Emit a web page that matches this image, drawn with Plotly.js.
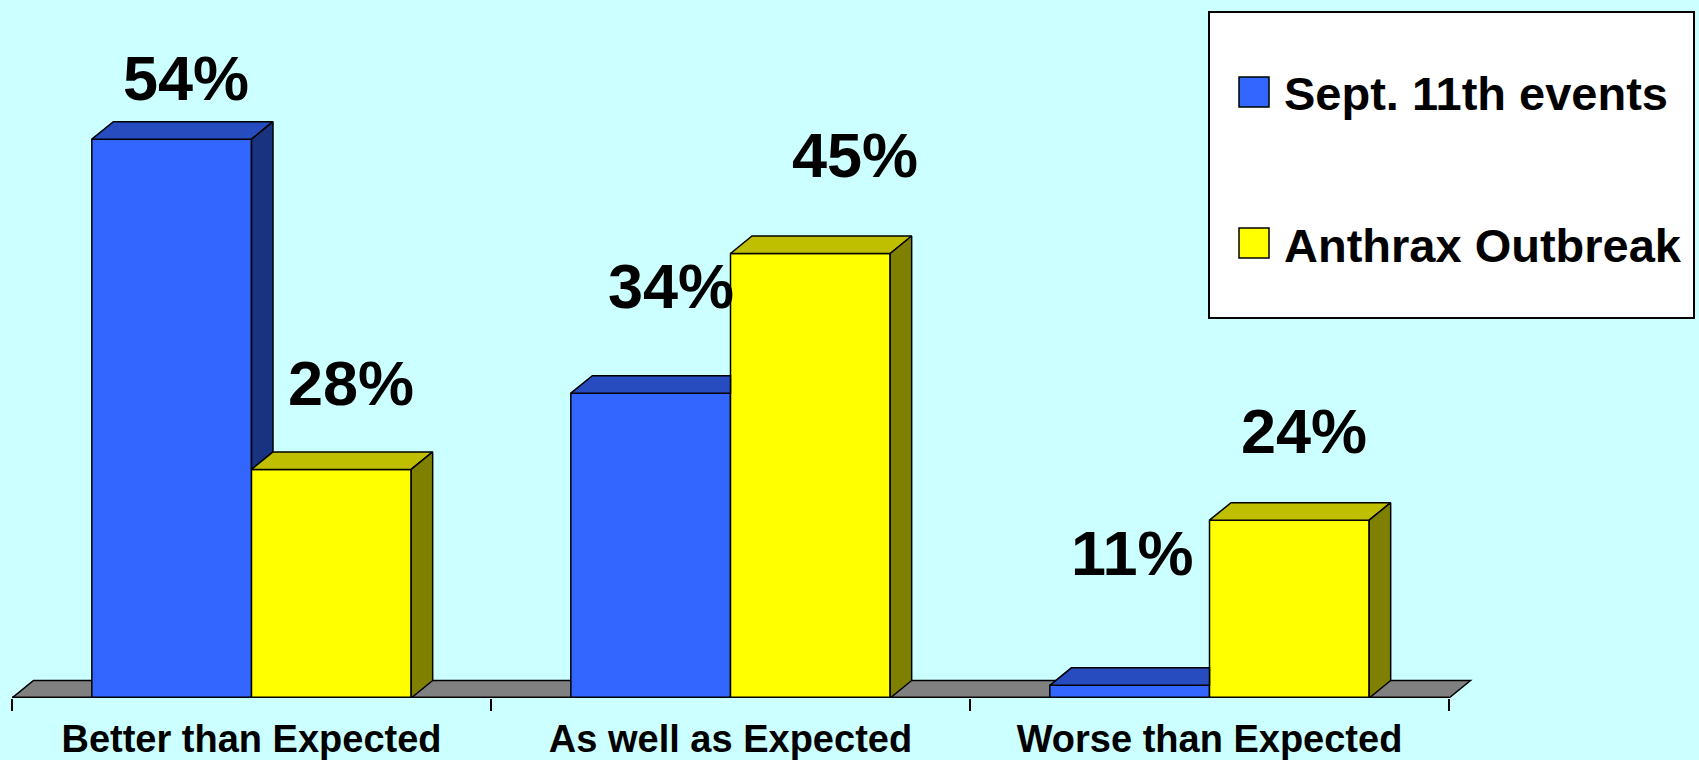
<!DOCTYPE html>
<html>
<head>
<meta charset="utf-8">
<script src="https://cdn.plot.ly/plotly-3.0.1.min.js"></script>
<style>
  html, body { margin: 0; padding: 0; background: #CCFFFF; }
  #chart { width: 1699px; height: 760px; }
</style>
</head>
<body>
<div id="chart"></div>
<script>
// ---------------- data ----------------
const categories = ['Better than Expected', 'As well as Expected', 'Worse than Expected'];
const seriesNames = ['Sept. 11th events', 'Anthrax Outbreak'];
const sept11Values = [54, 34, 11];
const anthraxValues = [28, 45, 24];
const AXIS_FLOOR = 10;   // value axis of the original chart starts at 10%

// ---------------- layout constants ----------------
const FONT = 'Liberation Sans, Arial, Helvetica, sans-serif';
const W = 1699, H = 760;
const M = { l: 12, r: 219, t: 0, b: 62 };
const PX_PER_CAT = 479, PX_PER_UNIT = 12.7;
const plotW = W - M.l - M.r, plotH = H - M.t - M.b;
const xRange = [-0.5, -0.5 + plotW / PX_PER_CAT];
const yRange = [AXIS_FLOOR, AXIS_FLOOR + plotH / PX_PER_UNIT];
const DX = 21.5 / PX_PER_CAT;      // 3-D depth, x units
const DY = 17.5 / PX_PER_UNIT;     // 3-D depth, y units
const BAR_W = 1 / 3;

const colors = {
  blue:   { front: '#3366FF', top: '#264CBF', side: '#1A3380' },
  yellow: { front: '#FFFF00', top: '#BFBF00', side: '#808000' }
};
// hand placement of the value labels (pixels, relative to bar front-top centre)
const sept11LabelShift = [[14, 61], [20, 107], [3, 132]];
const anthraxLabelShift = [[20, 86], [45, 99], [15, 89]];

const idx = categories.map((c, i) => i);
const n = categories.length;
const toPaperX = px => (px - M.l) / plotW;
const toPaperY = py => 1 - (py - M.t) / plotH;

// ---------------- front faces: real bar traces ----------------
const traces = [
  {
    type: 'bar', name: seriesNames[0], legendgroup: 'g1', showlegend: false,
    x: idx, y: sept11Values, offset: -BAR_W, width: BAR_W,
    customdata: categories,
    hovertemplate: '%{customdata}<br>' + seriesNames[0] + ': %{y}%<extra></extra>',
    marker: { color: colors.blue.front, line: { color: '#000', width: 1.5 } }
  },
  {
    type: 'bar', name: seriesNames[1], legendgroup: 'g2', showlegend: false,
    x: idx, y: anthraxValues, offset: 0, width: BAR_W,
    customdata: categories,
    hovertemplate: '%{customdata}<br>' + seriesNames[1] + ': %{y}%<extra></extra>',
    marker: { color: colors.yellow.front, line: { color: '#000', width: 1.5 } }
  }
];

// ---------------- 3-D top/side faces from the same data ----------------
const faces = { blueTop: [[], []], blueSide: [[], []], yellowTop: [[], []], yellowSide: [[], []] };
function poly(key, pts) {
  pts.concat([pts[0]]).forEach(p => { faces[key][0].push(p[0]); faces[key][1].push(p[1]); });
  faces[key][0].push(null); faces[key][1].push(null);
}
idx.forEach(i => {
  const B = sept11Values[i], Y = anthraxValues[i];
  const xb0 = i - BAR_W, xb1 = i, xy1 = i + BAR_W;
  if (B >= Y) {
    poly('blueTop', [[xb0, B], [xb1, B], [xb1 + DX, B + DY], [xb0 + DX, B + DY]]);
    poly('blueSide', [[xb1, Y], [xb1, B], [xb1 + DX, B + DY], [xb1 + DX, Y + DY]]);
  } else {
    poly('blueTop', [[xb0, B], [xb1, B], [xb1, B + DY], [xb0 + DX, B + DY]]);
  }
  poly('yellowTop', [[xb1, Y], [xy1, Y], [xy1 + DX, Y + DY], [xb1 + DX, Y + DY]]);
  poly('yellowSide', [[xy1, AXIS_FLOOR], [xy1, Y], [xy1 + DX, Y + DY], [xy1 + DX, AXIS_FLOOR + DY]]);
});
[['blueTop', colors.blue.top], ['blueSide', colors.blue.side],
 ['yellowTop', colors.yellow.top], ['yellowSide', colors.yellow.side]].forEach(([k, c]) => {
  traces.push({
    type: 'scatter', mode: 'lines', x: faces[k][0], y: faces[k][1],
    fill: 'toself', fillcolor: c, line: { color: '#000', width: 1.5 },
    hoverinfo: 'skip', showlegend: false
  });
});

// ---------------- legend entries (linked to the bars by legendgroup) ----------------
[[seriesNames[0], colors.blue.front, 'g1'], [seriesNames[1], colors.yellow.front, 'g2']].forEach(([nm, c, g]) => {
  traces.push({
    type: 'scatter', mode: 'markers', name: nm, legendgroup: g, showlegend: true,
    x: [null], y: [null], hoverinfo: 'skip',
    marker: { symbol: 'square', size: 16, color: c, line: { width: 0 } }
  });
});

// ---------------- value labels ----------------
const annotations = [];
idx.forEach(i => {
  [[sept11Values, -BAR_W / 2, sept11LabelShift], [anthraxValues, BAR_W / 2, anthraxLabelShift]].forEach(([vals, off, sh]) => {
    annotations.push({
      x: i + off, y: vals[i], xref: 'x', yref: 'y',
      text: vals[i] + '%', showarrow: false,
      xanchor: 'center', yanchor: 'middle',
      xshift: sh[i][0], yshift: sh[i][1],
      font: { family: FONT, size: 63, weight: 'bold', color: '#000' }
    });
  });
});

// ---------------- floor (drawn under the bars) and legend frame ----------------
const floorPath = `M ${-0.5},${AXIS_FLOOR} L ${n - 0.5},${AXIS_FLOOR} L ${n - 0.5 + DX},${AXIS_FLOOR + DY} L ${-0.5 + DX},${AXIS_FLOOR + DY} Z`;
const legendSwatch = (cy, color) => ({
  type: 'rect', xref: 'paper', yref: 'paper', layer: 'below',
  x0: toPaperX(1239), x1: toPaperX(1269), y0: toPaperY(cy + 15), y1: toPaperY(cy - 15),
  fillcolor: color, line: { color: '#000', width: 1.5 }
});
const shapes = [
  { type: 'path', xref: 'x', yref: 'y', path: floorPath, layer: 'below',
    fillcolor: '#808080', line: { color: '#000', width: 1.5 } },
  { type: 'line', xref: 'x', yref: 'y', x0: -0.5, x1: n - 0.5, y0: AXIS_FLOOR, y1: AXIS_FLOOR,
    layer: 'above', line: { color: '#000', width: 3 } },
  { type: 'rect', xref: 'paper', yref: 'paper', layer: 'below',
    x0: toPaperX(1209), x1: toPaperX(1694), y0: toPaperY(318), y1: toPaperY(12),
    fillcolor: '#FFFFFF', line: { color: '#000', width: 2 } },
  legendSwatch(92, colors.blue.front),
  legendSwatch(243, colors.yellow.front)
];

const boundaries = idx.map(i => i - 0.5).concat([n - 0.5]);

const layout = {
  width: W, height: H, margin: M,
  paper_bgcolor: '#CCFFFF', plot_bgcolor: 'rgba(0,0,0,0)',
  barmode: 'overlay',
  showlegend: true,
  xaxis: {
    type: 'linear', range: xRange, fixedrange: true,
    tickmode: 'array', tickvals: idx, ticktext: categories,
    ticks: '', showgrid: false, zeroline: false, showline: false,
    ticklabelstandoff: 15,
    tickfont: { family: FONT, size: 38, weight: 'bold', color: '#000' },
    minor: { tickmode: 'array', tickvals: boundaries, ticks: 'outside', ticklen: 12,
             tickwidth: 1.5, tickcolor: '#000', showgrid: false }
  },
  yaxis: { range: yRange, visible: false, fixedrange: true, showgrid: false, zeroline: false },
  legend: {
    x: toPaperX(1224), y: toPaperY(55), xanchor: 'left', yanchor: 'top',
    bgcolor: 'rgba(0,0,0,0)', borderwidth: 0, itemwidth: 50,
    traceorder: 'grouped', tracegroupgap: 88, itemclick: false, itemdoubleclick: false,
    font: { family: FONT, size: 47, weight: 'bold', color: '#000' }
  },
  annotations: annotations,
  shapes: shapes
};

Plotly.newPlot('chart', traces, layout, { displayModeBar: false, responsive: false });
</script>
</body>
</html>
